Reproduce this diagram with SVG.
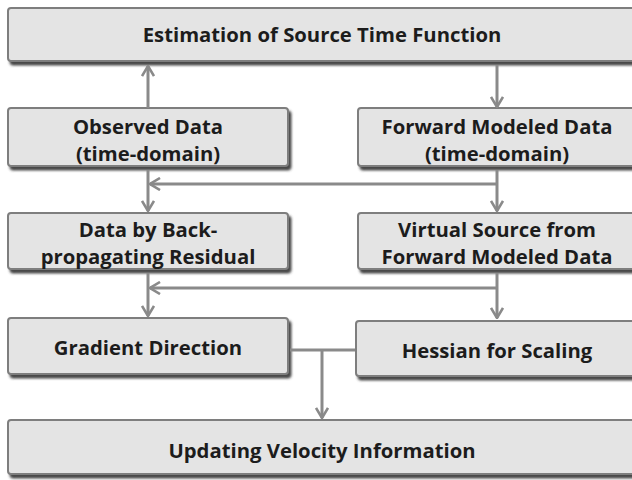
<svg xmlns="http://www.w3.org/2000/svg" width="632" height="480" viewBox="0 0 632 480">
<defs>
<filter id="sh" x="-5%" y="-10%" width="115%" height="130%">
<feDropShadow dx="2.5" dy="3.5" stdDeviation="1" flood-color="#404040" flood-opacity="0.95"/>
</filter>
<marker id="ah" viewBox="0 0 12 14" refX="11" refY="7" markerWidth="12" markerHeight="14" markerUnits="userSpaceOnUse" orient="auto">
<path d="M1,1 L11,7 L1,13" fill="none" stroke="#8a8a8a" stroke-width="2.6"/>
</marker>
</defs>
<style>
.box{fill:#e4e4e4;stroke:#7e7e7e;stroke-width:2;filter:url(#sh)}
.t{font-family:"Open Sans","Liberation Sans",Arial,sans-serif;font-weight:bold;font-size:20.3px;fill:#1c1c1c;text-anchor:middle}
.c{fill:none;stroke:#8a8a8a;stroke-width:3}
</style>
<rect width="632" height="480" fill="#ffffff"/>
<g id="n-estimation"><rect class="box" x="8" y="8" width="640" height="53" rx="3"/><text class="t" x="322" y="42">Estimation of Source Time Function</text></g>
<g id="n-observed"><rect class="box" x="8" y="108" width="280" height="58" rx="3"/><text class="t" x="148" y="134">Observed Data</text><text class="t" x="148" y="161">(time-domain)</text></g>
<g id="n-forward"><rect class="box" x="358" y="108" width="290" height="58" rx="3"/><text class="t" x="497" y="134">Forward Modeled Data</text><text class="t" x="497" y="161">(time-domain)</text></g>
<g id="n-backprop"><rect class="box" x="8" y="213" width="280" height="56" rx="3"/><text class="t" x="148" y="237">Data by Back-</text><text class="t" x="148" y="264">propagating Residual</text></g>
<g id="n-virtual"><rect class="box" x="358" y="213" width="290" height="56" rx="3"/><text class="t" x="497" y="237">Virtual Source from</text><text class="t" x="497" y="264">Forward Modeled Data</text></g>
<g id="n-gradient"><rect class="box" x="8" y="318" width="280" height="56" rx="3"/><text class="t" x="148" y="355">Gradient Direction</text></g>
<g id="n-hessian"><rect class="box" x="356" y="321" width="292" height="55" rx="3"/><text class="t" x="497" y="358">Hessian for Scaling</text></g>
<g id="n-updating"><rect class="box" x="8" y="420" width="640" height="54" rx="3"/><text class="t" x="322" y="458">Updating Velocity Information</text></g>
<g id="connectors">
<path class="c" d="M148,108 L148,66" marker-end="url(#ah)"/>
<path class="c" d="M497,65 L497,107" marker-end="url(#ah)"/>
<path class="c" d="M497,170 L497,211" marker-end="url(#ah)"/>
<path class="c" d="M497,184 L150,184" marker-end="url(#ah)"/>
<path class="c" d="M148,170 L148,211" marker-end="url(#ah)"/>
<path class="c" d="M497,273 L497,318" marker-end="url(#ah)"/>
<path class="c" d="M497,288 L150,288" marker-end="url(#ah)"/>
<path class="c" d="M148,273 L148,316" marker-end="url(#ah)"/>
<path class="c" d="M290,350 L355,350"/>
<path class="c" d="M322,350 L322,418" marker-end="url(#ah)"/>
</g>
</svg>
